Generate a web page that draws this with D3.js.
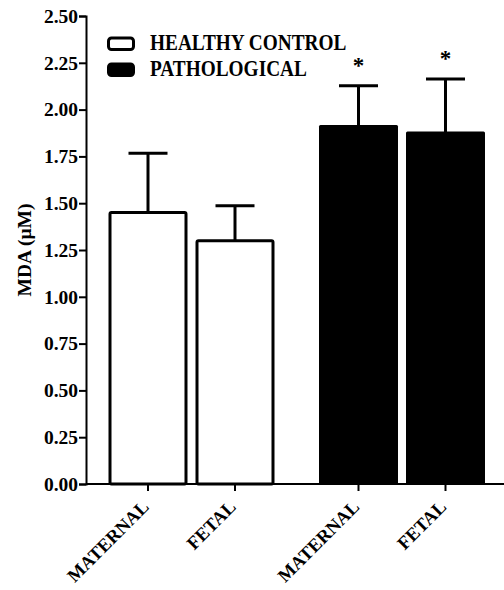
<!DOCTYPE html>
<html><head><meta charset="utf-8">
<script src="https://cdn.jsdelivr.net/npm/d3@7"></script>
<style>body{margin:0;background:#fff}svg{display:block}svg text{font-family:"Liberation Serif","Times New Roman",serif;font-weight:bold}</style>
</head><body>
<svg id="c" width="504" height="590"></svg>
<script>
const groups = ["HEALTHY CONTROL", "PATHOLOGICAL"];
const subCats = ["MATERNAL", "FETAL"];
const means = [[1.45, 1.30], [1.91, 1.875]];
const errTop = [[1.767, 1.487], [2.128, 2.163]];
const sig = [[false, false], [true, true]];
const yTicks = [0, 0.25, 0.5, 0.75, 1.0, 1.25, 1.5, 1.75, 2.0, 2.25, 2.5];
const fills = ["#ffffff", "#000000"];

const svg = d3.select("#c");
const y = d3.scaleLinear().domain([0, 2.5]).range([484, 16]);
const x0 = d3.scaleBand().domain(groups).range([104.5, 489]).paddingInner(0.1734).paddingOuter(0);
const x1 = d3.scaleBand().domain(subCats).range([0, x0.bandwidth()]).paddingInner(0.092).paddingOuter(0.046);

// y axis
const yAxis = svg.append("g").attr("transform", "translate(86,0)")
  .call(d3.axisLeft(y).tickValues(yTicks).tickFormat(d3.format(".2f")).tickSize(7).tickPadding(1));
yAxis.attr("font-family", null);
yAxis.select(".domain").attr("stroke", "#000").attr("stroke-width", 2);
yAxis.selectAll(".tick line").attr("stroke", "#000").attr("stroke-width", 2);
yAxis.selectAll("text").style("font-size", "19.5px").attr("fill", "#000");

// bars
groups.forEach((g, gi) => {
  subCats.forEach((s, si) => {
    const bx = x0(g) + x1(s), bw = x1.bandwidth();
    const cx = bx + bw / 2;
    svg.append("line").attr("x1", cx).attr("x2", cx).attr("y1", y(means[gi][si])).attr("y2", y(errTop[gi][si]))
      .attr("stroke", "#000").attr("stroke-width", 3);
    svg.append("line").attr("x1", cx - 19.5).attr("x2", cx + 19.5).attr("y1", y(errTop[gi][si])).attr("y2", y(errTop[gi][si]))
      .attr("stroke", "#000").attr("stroke-width", 3);
    if (gi === 0) {
      svg.append("rect").attr("x", bx + 1.5).attr("y", y(means[gi][si])).attr("width", bw - 3)
        .attr("height", y(0) - y(means[gi][si])).attr("rx", 1.5)
        .attr("fill", fills[gi]).attr("stroke", "#000").attr("stroke-width", 3);
    } else {
      svg.append("rect").attr("x", bx).attr("y", y(means[gi][si]) - 1.5).attr("width", bw)
        .attr("height", y(0) - y(means[gi][si]) + 1.5).attr("rx", 1.5)
        .attr("fill", fills[gi]);
    }
    if (sig[gi][si]) {
      svg.append("text").attr("x", cx).attr("y", y(errTop[gi][si]) - 13).attr("text-anchor", "middle")
        .style("font-size", "23px").attr("fill", "#000").text("*");
    }
  });
});

// x axis
const xg = svg.append("g");
xg.append("line").attr("x1", 86).attr("x2", 504).attr("y1", y(0)).attr("y2", y(0)).attr("stroke", "#000").attr("stroke-width", 2);
groups.forEach(g => subCats.forEach(s => {
  const cx = x0(g) + x1(s) + x1.bandwidth() / 2;
  xg.append("line").attr("x1", cx).attr("x2", cx).attr("y1", y(0)).attr("y2", y(0) + 7).attr("stroke", "#000").attr("stroke-width", 2);
  xg.append("text").attr("transform", `translate(${cx + 2},${y(0) + 24}) rotate(-45)`)
    .attr("text-anchor", "end").style("font-size", "18.5px")
    .attr("fill", "#000").text(s);
}));

// y title
svg.append("text").attr("transform", "translate(31,250) rotate(-90)").attr("text-anchor", "middle")
  .style("font-size", "19.5px").attr("fill", "#000").text("MDA (μM)");

// legend
const leg = svg.append("g");
groups.forEach((g, i) => {
  const ly = 43.5 + i * 26;
  leg.append("rect").attr("x", 108.5).attr("y", ly - 5.5).attr("width", 25).attr("height", 11.5).attr("rx", 3)
    .attr("fill", fills[i]).attr("stroke", "#000").attr("stroke-width", 3);
  leg.append("text").attr("transform", `translate(150,${ly + 6}) scale(1,1.17)`)
    .style("font-size", "19.3px").attr("fill", "#000").text(g);
});
</script>
</body></html>
